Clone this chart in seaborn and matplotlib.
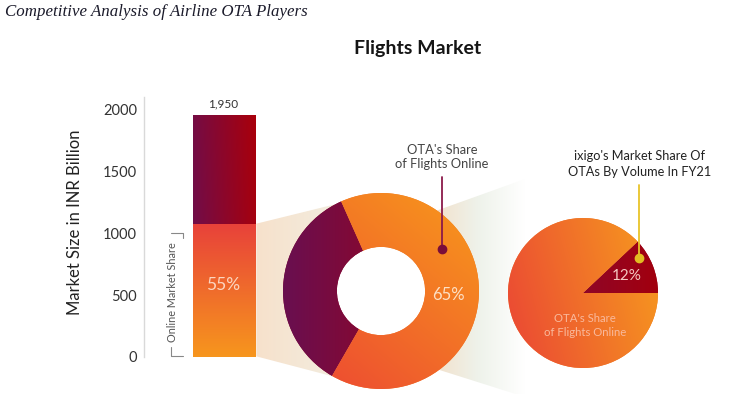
import numpy as np
import matplotlib
matplotlib.use("Agg")
import matplotlib.pyplot as plt
from matplotlib.colors import LinearSegmentedColormap
from matplotlib.patches import Polygon, Circle
import seaborn as sns

# ---------------- data ----------------
categories = ["Flights"]
market_size = [1950]          # INR billion
online_pct = [55]             # online market share (%)
ota_pct = [35, 65]            # [non-OTA, OTA] share of flights online (%)
ixigo_pct = [12, 88]          # [ixigo, other OTAs] share by volume FY21 (%)
yticks = [0, 500, 1000, 1500, 2000]

sns.set_theme(style="white")
plt.rcParams["font.family"] = ["Lato", "DejaVu Sans"]

W, H = 732, 394
fig = plt.figure(figsize=(W / 100, H / 100), dpi=100)


def px_axes(x0, y0, x1, y1, **kw):
    return fig.add_axes([x0 / W, 1 - y1 / H, (x1 - x0) / W, (y1 - y0) / H], **kw)


def grad_fill(ax, patch, c0, c1, angle, extent, zorder=3, stops=None):
    n = 256
    xs = np.linspace(0, 1, n)
    X, Y = np.meshgrid(xs, xs)
    a = np.deg2rad(angle)
    Z = X * np.cos(a) + Y * np.sin(a)
    Z = (Z - Z.min()) / (Z.max() - Z.min())
    cols = stops if stops is not None else [c0, c1]
    cmap = LinearSegmentedColormap.from_list("g", cols)
    im = ax.imshow(Z, cmap=cmap, extent=extent, origin="lower", aspect="auto",
                   zorder=zorder, interpolation="bilinear")
    im.set_clip_path(patch)
    return im


# ---------------- background funnels ----------------
bg = px_axes(0, 0, W, H)
poly1 = Polygon([(255, 224), (381, 193), (381, 389), (255, 356)], closed=True,
                fc="none", ec="none")
bg.add_patch(poly1)
grad_fill(bg, poly1, "#f7e1cb", "#f0f3ea", 0, (255, 381, 193, 389), zorder=1)
poly2 = Polygon([(430, 213), (525, 179), (525, 397), (430, 367)], closed=True,
                fc="none", ec="none")
bg.add_patch(poly2)
grad_fill(bg, poly2, None, None, 0, (430, 525, 179, 397), zorder=1,
          stops=["#f3dfc8", "#eef2ea", "#ffffff"])
bg.set_xlim(0, W)
bg.set_ylim(H, 0)
bg.axis("off")

# ---------------- bar ----------------
axb = px_axes(144, 97, 274, 357)
axb.set_facecolor("none")
online_val = market_size[0] * online_pct[0] / 100
sns.barplot(x=categories, y=market_size, ax=axb, color="#8a0a2a", width=0.8,
            saturation=1)
sns.barplot(x=categories, y=[online_val], ax=axb, color="#ee6a2c", width=0.8,
            saturation=1)
p_total, p_online = axb.patches[0], axb.patches[1]
for p, c0, c1, ang in [(p_total, "#6c0e4e", "#a9000b", 10),
                       (p_online, "#f7961d", "#e8423a", 90)]:
    x0, w, h = p.get_x(), p.get_width(), p.get_height()
    grad_fill(axb, p, c0, c1, ang, (x0, x0 + w, 0, h), zorder=3)
axb.set_xlim(-1.026, 0.651)
axb.set_ylim(0, 2097)
axb.set_yticks(yticks)
axb.set_yticklabels([str(t) for t in yticks], fontsize=10.5, color="#333333")
axb.tick_params(axis="y", length=0, pad=5)
axb.set_xticks([])
axb.set_xlabel("")
for s in ["top", "right", "bottom"]:
    axb.spines[s].set_visible(False)
axb.spines["left"].set_color("#d9d9d9")
axb.spines["left"].set_linewidth(1)
axb.set_ylabel("Market Size in INR Billion", fontsize=12, color="#222222")
axb.yaxis.set_label_coords(-0.47, 0.52)
axb.annotate(f"{market_size[0]:,}", (0, market_size[0]), xytext=(0, 4),
             textcoords="offset points", ha="center", va="bottom",
             fontsize=8.5, color="#333333")
axb.text(0, online_val * 0.54, f"{online_pct[0]}%", ha="center", va="center",
         fontsize=12.5, color="#fcd5bf", zorder=5)


def circle_axes(cx, cy, r):
    L = 1.03
    half = r * L
    ax = px_axes(cx - half, cy - half, cx + half, cy + half)
    return ax, L


def finish(ax, L):
    ax.set_xlim(-L, L)
    ax.set_ylim(-L, L)
    ax.axis("off")


# ---------------- donut ----------------
axd, Ld = circle_axes(381, 291, 98)
ring = 0.55
wd, _ = axd.pie(ota_pct, startangle=114, counterclock=True, radius=1,
                colors=["#8a0a2a", "#f07a28"],
                wedgeprops=dict(width=ring, linewidth=0))
axd.add_patch(Circle((0, 0), 1 - ring + 0.01, color="white", zorder=0.5))
grad_fill(axd, wd[0], "#690f50", "#a8000c", 0, (-1, 1, -1, 1))
grad_fill(axd, wd[1], "#ec4434", "#f89a1b", 50, (-1, 1, -1, 1))
start = 114 + 360 * ota_pct[0] / 100
mid = np.deg2rad(start + 360 * ota_pct[1] / 200)
axd.text(0.69 * np.cos(mid), 0.69 * np.sin(mid), f"{ota_pct[1]}%",
         ha="center", va="center", fontsize=12, color="#fde0c4", zorder=5)
finish(axd, Ld)

# ---------------- pie ----------------
axp, Lp = circle_axes(583, 293, 75)
wp, _ = axp.pie(ixigo_pct, startangle=0, counterclock=True, radius=1,
                colors=["#950a20", "#f07a28"], wedgeprops=dict(linewidth=0))
grad_fill(axp, wp[0], "#7c0c40", "#a2000e", 0, (-1, 1, -1, 1))
grad_fill(axp, wp[1], "#ea4535", "#f79c1e", 15, (-1, 1, -1, 1))
midp = np.deg2rad(360 * ixigo_pct[0] / 200)
axp.text(0.63 * np.cos(midp), 0.63 * np.sin(midp), f"{ixigo_pct[0]}%",
         ha="center", va="center", fontsize=11, color="#f6c9c2", zorder=5)
axp.text(0.03, -0.43, "OTA's Share\nof Flights Online", ha="center", va="center",
         fontsize=8.2, color="#f9b99c", linespacing=1.3, zorder=5)
finish(axp, Lp)

# ---------------- overlay annotations ----------------
fg = px_axes(0, 0, W, H)
fg.set_facecolor("none")
fg.set_xlim(0, W)
fg.set_ylim(H, 0)
fg.axis("off")

fg.text(5, 12, "Competitive Analysis of Airline OTA Players",
        family=["Liberation Serif"], style="italic", fontsize=12.2,
        color="#1a1a2a", ha="left", va="center")
fg.text(418, 48, "Flights Market", fontsize=14, fontweight="bold",
        color="#151515", ha="center", va="center")

# bracket for online share
fg.text(173, 292, "Online Market Share", rotation=90, fontsize=7.8,
        color="#555555", ha="center", va="center")
fg.plot([171, 183, 183], [233, 233, 238], color="#888888", lw=0.8)
fg.plot([171, 171, 183], [347, 356, 356], color="#888888", lw=0.8)

fg.text(442, 157, "OTA's Share\nof Flights Online", fontsize=9.3,
        color="#444444", ha="center", va="center", linespacing=1.2)
fg.plot([442, 442], [177, 249], color="#8b1a4a", lw=1.3)
fg.plot([442], [249], "o", color="#7a0d3a", ms=6)

fg.text(640, 164, "ixigo's Market Share Of\nOTAs By Volume In FY21", fontsize=9.2,
        color="#222222", ha="center", va="center", linespacing=1.45)
fg.plot([639, 639], [185, 258], color="#e8c42a", lw=1.3)
fg.plot([639], [258], "o", color="#e2bd22", ms=6)

fig.savefig("out.png", dpi=100)
